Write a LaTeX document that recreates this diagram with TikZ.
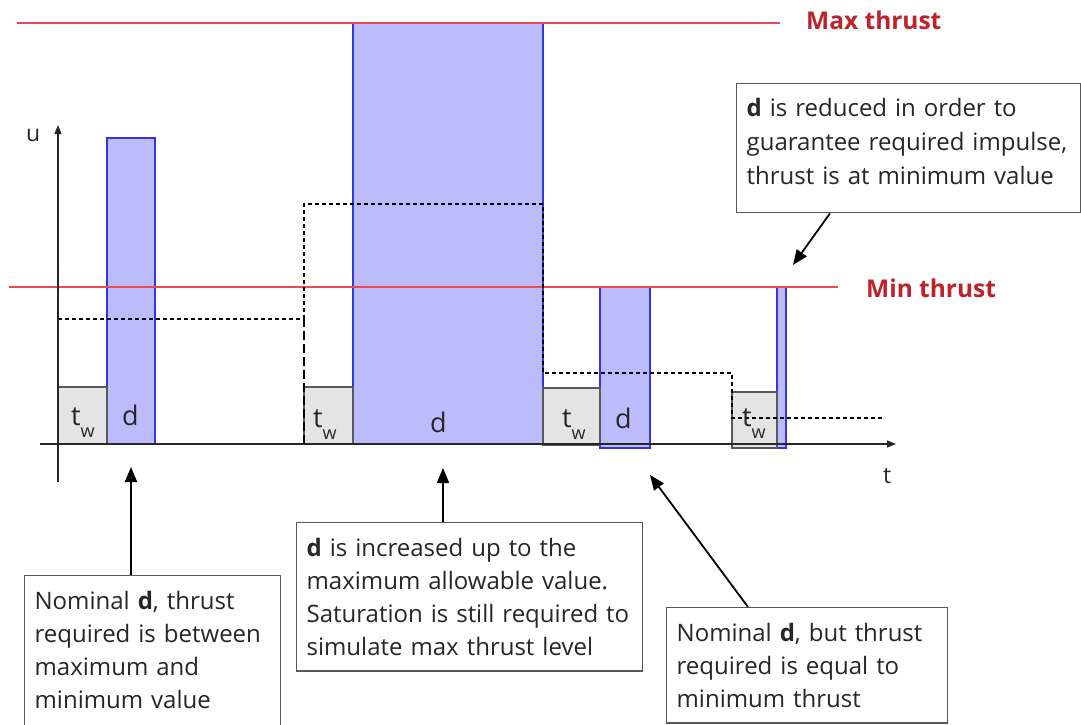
\documentclass[tikz,border=0pt]{standalone}
\usepackage{fontspec}
\setmainfont{Open Sans}
\usepackage{xcolor}
\usepackage{tikz}
\usetikzlibrary{positioning, arrows.meta, calc}

\definecolor{limitred}{RGB}{238,72,84}
\definecolor{labelred}{RGB}{190,34,42}
\definecolor{pulsefill}{RGB}{188,188,252}
\definecolor{pulseedge}{RGB}{52,52,226}
\definecolor{waitfill}{RGB}{228,228,228}
\definecolor{framegray}{RGB}{88,88,88}

\begin{document}
\begin{tikzpicture}[
    x=1pt, y=-1pt,
    font=\fontsize{24}{33}\selectfont,
    limit/.style={limitred, line width=1.2pt},
    limitlabel/.style={anchor=base west, inner sep=0pt, text=labelred, font=\fontsize{24.5}{24.5}\selectfont\bfseries},
    pulse/.style={draw=pulseedge, fill=pulsefill, line width=1.2pt},
    wait/.style={draw=framegray, fill=waitfill, line width=1.2pt},
    req/.style={black, line width=1.1pt, dash pattern=on 4pt off 3pt},
    reqlong/.style={black, line width=1.1pt, dash pattern=on 9pt off 4pt},
    axis/.style={-{Triangle[length=9pt, width=7pt]}, line width=1.3pt, black!85},
    symb/.style={anchor=base west, inner sep=0pt, font=\fontsize{27}{27}\selectfont, text=black!85},
    note/.style={draw=framegray, fill=white, line width=1.3pt, align=left, anchor=north west, inner xsep=10pt, inner ysep=15.4pt, text=black!85},
    pointer/.style={-{Triangle[length=15pt, width=12pt]}, line width=1.8pt, black}
]

\useasboundingbox (0,0) rectangle (1081,725);

\def\ybase{444}
\def\ymax{23}
\def\ymin{287}
\newcommand{\tw}{t\raisebox{-12pt}{\fontsize{18}{18}\selectfont w}}

% Pulses
\draw[pulse] (107,138) rectangle (155,\ybase);
\draw[pulse] (353,\ymax) rectangle (543,\ybase);
\draw[pulse] (600,\ymin) rectangle (650,448);
\draw[pulse] (777,\ymin) rectangle (786,448);

% Waiting times
\draw[wait] (58,387) rectangle (107,\ybase);
\draw[wait] (304,387) rectangle (353,\ybase);
\draw[wait] (543,388) rectangle (600,445);
\draw[wait] (732,392) rectangle (777,448);

% Thrust limits
\draw[limit] (17,\ymax) -- (780,\ymax);
\draw[limit] (9,\ymin) -- (838,\ymin);
\node[limitlabel] (maxlbl) at (806,30) {Max thrust};
\node[limitlabel] (minlbl) at (866,297) {Min thrust};

% Required thrust
\draw[req] (58,319) -- (304,319);
\draw[reqlong] (304,\ybase) -- (304,319);
\draw[req] (304,319) -- (304,204) -- (543,204) -- (543,373) -- (732,373) -- (732,418) -- (885,418);

% Axes
\draw[axis] (58,482) -- (58,125);
\draw[axis] (40,\ybase) -- (896,\ybase);
\node[symb, font=\fontsize{23}{23}\selectfont] (ulbl) at (26,141) {u};
\node[symb, font=\fontsize{23}{23}\selectfont] (tlbl) at (883,483) {t};

% Symbols
\node[symb] (tw1) at (71,425) {\tw};
\node[symb] (d1) at (122,425) {d};
\node[symb] (tw2) at (313,427) {\tw};
\node[symb] (d2) at (430,432) {d};
\node[symb] (tw3) at (562,427) {\tw};
\node[symb] (d3) at (615,428) {d};
\node[symb] (tw4) at (742,426) {\tw};

% Notes
\node[note, text width=236pt, inner ysep=16pt] (box1) at (24,575)
    {Nominal \textbf{d}, thrust\\required is between\\maximum and\\minimum value\rule[-30pt]{0pt}{30pt}};
\node[note, text width=326pt] (box2) at (296,522)
    {\textbf{d} is increased up to the\\maximum allowable value.\\Saturation is still required to\\simulate max thrust level};
\node[note, text width=261pt] (box3) at (666,607)
    {Nominal \textbf{d}, but thrust\\required is equal to\\minimum thrust};
\node[note, text width=324pt, inner ysep=14.4pt, font=\fontsize{24}{34}\selectfont] (box4) at (736,83)
    {\textbf{d} is reduced in order to\\guarantee required impulse,\\thrust is at minimum value\rule[-14pt]{0pt}{14pt}};

% Pointers
\coordinate (tip1) at (131,467);
\coordinate (tip2) at (443,468);
\coordinate (tip3) at (650,475);
\coordinate (tip4) at (793,265);
\draw[pointer] (box1.north -| tip1) -- (tip1);
\draw[pointer] (box2.north -| tip2) -- (tip2);
\draw[pointer] ([xshift=82pt]box3.north west) -- (tip3);
\draw[pointer] ([xshift=94pt]box4.south west) -- (tip4);

\end{tikzpicture}
\end{document}
